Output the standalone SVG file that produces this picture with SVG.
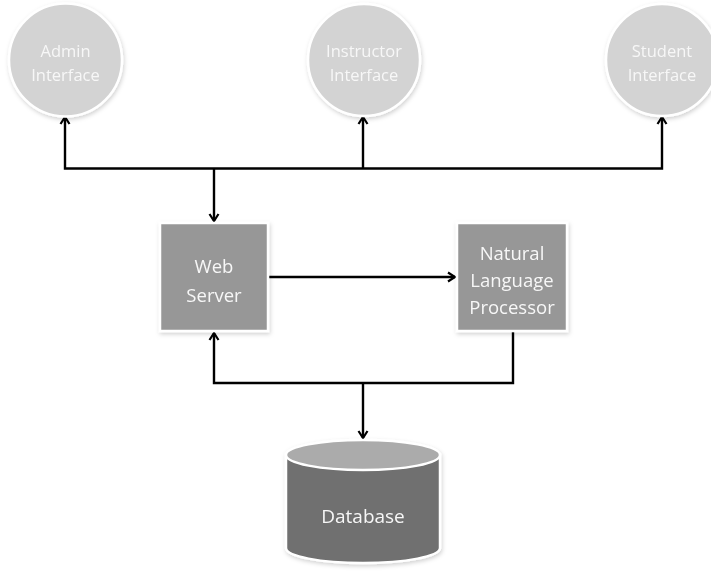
<svg xmlns="http://www.w3.org/2000/svg" width="711" height="572" viewBox="0 0 711 572">
  <style>
    .bg { fill: #ffffff; }
    .iface { fill: #d3d3d3; stroke: #ffffff; stroke-width: 2.5; }
    .box { fill: #979797; stroke: #ffffff; stroke-width: 2.5; }
    .db-body { fill: #6f6f6f; stroke: #ffffff; stroke-width: 2.5; }
    .db-top { fill: #ababab; stroke: #ffffff; stroke-width: 2.5; }
    .label { font-family: "Open Sans", "Noto Sans", sans-serif; fill: #f7f7f7; text-anchor: middle; }
    .iface-label { font-size: 16.5px; }
    .box-label { font-size: 18.5px; }
    .db-label { font-size: 19px; }
    .wire { fill: none; stroke: #000000; stroke-width: 2.4; stroke-linejoin: miter; }
  </style>
  <defs>
    <marker id="arrow" viewBox="0 0 12 12" refX="10" refY="6" markerWidth="12" markerHeight="12" markerUnits="userSpaceOnUse" orient="auto-start-reverse">
      <path d="M3,1.5 L10,6 L3,10.5" fill="none" stroke="#000000" stroke-width="2.2"/>
    </marker>
    <filter id="shadow" x="-20%" y="-20%" width="140%" height="140%">
      <feDropShadow dx="1" dy="2" stdDeviation="2" flood-color="#000000" flood-opacity="0.18"/>
    </filter>
  </defs>

  <rect class="bg" x="0" y="0" width="711" height="572"/>

  <!-- connectors -->
  <g id="connectors">
    <!-- top bus linking the three interfaces -->
    <polyline class="wire" points="65,117 65,168.5 662,168.5 662,117" marker-start="url(#arrow)" marker-end="url(#arrow)"/>
    <line class="wire" x1="363" y1="168.5" x2="363" y2="117" marker-end="url(#arrow)"/>
    <line class="wire" x1="214" y1="168.5" x2="214" y2="221" marker-end="url(#arrow)"/>
    <!-- web server to NLP -->
    <line class="wire" x1="268" y1="277" x2="455" y2="277" marker-end="url(#arrow)"/>
    <!-- lower bus to the database -->
    <polyline class="wire" points="214,333 214,383 513,383 513,331" marker-start="url(#arrow)"/>
    <line class="wire" x1="363" y1="383" x2="363" y2="438" marker-end="url(#arrow)"/>
  </g>

  <g id="admin-interface" filter="url(#shadow)">
    <circle class="iface" cx="65.5" cy="60" r="56.5"/>
    <text class="label iface-label" x="65.5" y="57">Admin</text>
    <text class="label iface-label" x="65.5" y="81">Interface</text>
  </g>

  <g id="instructor-interface" filter="url(#shadow)">
    <circle class="iface" cx="364" cy="60" r="56"/>
    <text class="label iface-label" x="364" y="57">Instructor</text>
    <text class="label iface-label" x="364" y="81">Interface</text>
  </g>

  <g id="student-interface" filter="url(#shadow)">
    <circle class="iface" cx="662" cy="60" r="56"/>
    <text class="label iface-label" x="662" y="57">Student</text>
    <text class="label iface-label" x="662" y="81">Interface</text>
  </g>

  <g id="web-server" filter="url(#shadow)">
    <rect class="box" x="160" y="223" width="108" height="108"/>
    <text class="label box-label" x="214" y="273">Web</text>
    <text class="label box-label" x="214" y="302">Server</text>
  </g>

  <g id="nlp" filter="url(#shadow)">
    <rect class="box" x="457" y="223" width="110" height="108"/>
    <text class="label box-label" x="512" y="260">Natural</text>
    <text class="label box-label" x="512" y="287">Language</text>
    <text class="label box-label" x="512" y="314">Processor</text>
  </g>

  <g id="database" filter="url(#shadow)">
    <path class="db-body" d="M286,455 L286,548 A77,15 0 0 0 440,548 L440,455 Z"/>
    <ellipse class="db-top" cx="363" cy="455" rx="77" ry="15"/>
    <text class="label db-label" x="363" y="523">Database</text>
  </g>
</svg>
